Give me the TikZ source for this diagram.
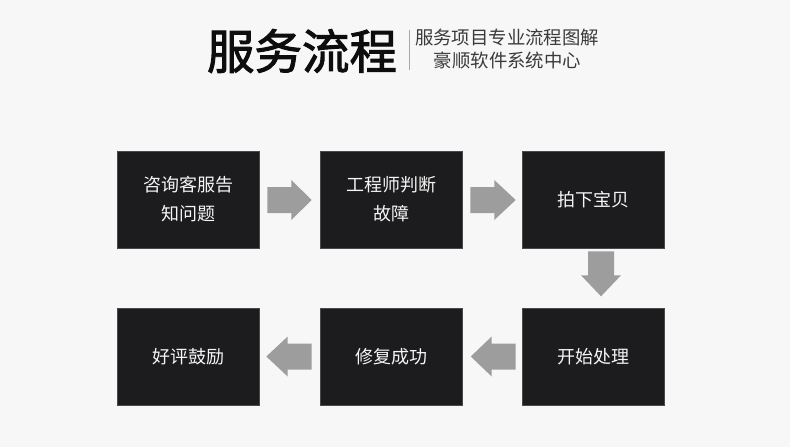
\documentclass[tikz,border=0pt]{standalone}
\usepackage{fontspec}
\usetikzlibrary{calc}
\newfontfamily\cjk{Noto Sans CJK SC}
\newfontfamily\cjkbold{Noto Sans CJK SC}[FakeBold=2]
\definecolor{bgc}{HTML}{F7F7F7}
\definecolor{boxc}{HTML}{1C1C1E}
\definecolor{arrc}{HTML}{9D9D9D}
\definecolor{sepc}{HTML}{A8A8A8}
\definecolor{subc}{HTML}{3A3A3A}
\newcommand\blockarrow[2]{%
  \coordinate (hb) at ($(#1)!24pt!(#2)$);
  \fill[arrc] ($(#1)!13pt!90:(#2)$) -- ($(hb)!13pt!90:(#2)$) -- ($(hb)!20pt!90:(#2)$) -- (#2)
    -- ($(hb)!20pt!-90:(#2)$) -- ($(hb)!13pt!-90:(#2)$) -- ($(#1)!13pt!-90:(#2)$) -- cycle;}
\begin{document}
\begin{tikzpicture}[x=1pt,y=-1pt,
  stepbox/.style={draw=boxc!80!white, line width=0.6pt, fill=boxc, text=white!96!black,
    minimum width=142pt, minimum height=97pt, inner sep=0pt, align=center,
    font=\cjk\fontsize{18}{29}\selectfont},
  subtext/.style={text=subc, inner sep=0pt, font=\cjk\fontsize{18.4}{22}\selectfont},
  sep/.style={draw=sepc, line width=0.8pt}]
\fill[bgc] (0,0) rectangle (790,447);
\useasboundingbox (0,0) rectangle (790,447);
% title
\node[text=black!95, inner sep=0pt, font=\cjkbold\fontsize{47.5}{50}\selectfont] (title) at (302,51) {服务流程};
\coordinate (s1) at (409,30);
\coordinate (s2) at (409,70);
\draw[sep] (s1) -- (s2);
\node[subtext] (sub1) at (507,38) {服务项目专业流程图解};
\node[subtext] (sub2) at (507.5,60.5) {豪顺软件系统中心};
% boxes
\node[stepbox] (b1) at (188,199.5) {咨询客服告\\知问题};
\node[stepbox] (b2) at (391,199.5) {工程师判断\\故障};
\node[stepbox] (b3) at (593,199.5) {拍下宝贝};
\node[stepbox] (b6) at (593,356.5) {开始处理};
\node[stepbox] (b5) at (391.5,356.5) {修复成功};
\node[stepbox] (b4) at (188,356.5) {好评鼓励};
% arrows
\coordinate (a1s) at ($(b1.east)+(8,0.5)$);
\coordinate (a1e) at ($(b2.west)+(-8,0.5)$);
\blockarrow{a1s}{a1e}
\coordinate (a2s) at ($(b2.east)+(8,0.5)$);
\coordinate (a2e) at ($(b3.west)+(-6,0.5)$);
\blockarrow{a2s}{a2e}
\coordinate (a3s) at ($(b3.south)+(8,3)$);
\coordinate (a3e) at ($(b3.south)+(8,48)$);
\blockarrow{a3s}{a3e}
\coordinate (a4s) at ($(b6.west)+(-6,0)$);
\coordinate (a4e) at ($(b5.east)+(8,0)$);
\blockarrow{a4s}{a4e}
\coordinate (a5s) at ($(b5.west)+(-8.5,0)$);
\coordinate (a5e) at ($(b4.east)+(7,0)$);
\blockarrow{a5s}{a5e}
\end{tikzpicture}
\end{document}
